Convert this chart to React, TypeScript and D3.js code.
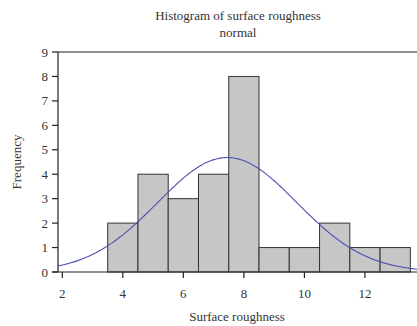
import React from "react";
import * as d3 from "d3";

const binStarts = [3.5, 4.5, 5.5, 6.5, 7.5, 8.5, 9.5, 10.5, 11.5, 12.5];
const binWidth = 1;
const counts = [2, 4, 3, 4, 8, 1, 1, 2, 1, 1];
const fitMean = 7.45;
const fitSd = 2.3;
const xTicks = [2, 4, 6, 8, 10, 12];
const yTicks = [0, 1, 2, 3, 4, 5, 6, 7, 8, 9];
const title = "Histogram of surface roughness";
const subtitle = "normal";
const xLabel = "Surface roughness";
const yLabel = "Frequency";

const W = 417;
const H = 326;
const left = 58;
const right = 417;
const top = 52;
const bottom = 272;

export default function App() {
  const x = d3.scaleLinear().domain([1.858, 13.72]).range([left, right]);
  const y = d3.scaleLinear().domain([0, 9]).range([bottom, top]);
  const n = d3.sum(counts);
  const xs = d3.range(1.858, 13.72, 0.05).concat([13.72]);
  const dens = (v: number) =>
    ((n * binWidth) / (fitSd * Math.sqrt(2 * Math.PI))) *
    Math.exp(-0.5 * ((v - fitMean) / fitSd) ** 2);
  const line = d3
    .line<number>()
    .x((d) => x(d))
    .y((d) => y(dens(d)))
    .curve(d3.curveMonotoneX);
  const font = "'Liberation Serif', 'DejaVu Serif', serif";
  const txt = "#333";
  const fs = 13;
  return (
    <svg
      width={W}
      height={H}
      style={{ position: "absolute", left: 0, top: 0, display: "block" }}
      fontFamily={font}
    >
      <rect width={W} height={H} fill="#fff" />
      <text x={238} y={19.5} textAnchor="middle" fontSize={fs} fill={txt}>
        {title}
      </text>
      <text x={238} y={36.5} textAnchor="middle" fontSize={fs} fill={txt}>
        {subtitle}
      </text>
      {binStarts.map((b, i) => (
        <rect
          key={i}
          x={x(b)}
          y={y(counts[i])}
          width={x(b + binWidth) - x(b)}
          height={y(0) - y(counts[i])}
          fill="#c5c6c5"
          stroke="#333"
          strokeWidth={1}
        />
      ))}
      <path d={line(xs) || ""} fill="none" stroke="#4b4fb3" strokeWidth={1.1} />
      <line x1={left} x2={right} y1={top} y2={top} stroke="#222" strokeWidth={1.2} />
      <line x1={left} x2={left} y1={top} y2={bottom} stroke="#222" strokeWidth={1.2} />
      <line x1={left - 6} x2={right} y1={bottom} y2={bottom} stroke="#222" strokeWidth={1.2} />
      {yTicks.map((t) => (
        <g key={t}>
          <line x1={left - 6} x2={left} y1={y(t)} y2={y(t)} stroke="#222" strokeWidth={1.2} />
          <text
            x={left - 10}
            y={y(t)}
            dy="0.35em"
            textAnchor="end"
            fontSize={fs}
            fill={txt}
          >
            {t}
          </text>
        </g>
      ))}
      {xTicks.map((t) => (
        <g key={t}>
          <line x1={x(t)} x2={x(t)} y1={bottom} y2={bottom + 6} stroke="#222" strokeWidth={1.2} />
          <text x={x(t)} y={297.5} textAnchor="middle" fontSize={fs} fill={txt}>
            {t}
          </text>
        </g>
      ))}
      <text x={237} y={320.5} textAnchor="middle" fontSize={fs} fill={txt}>
        {xLabel}
      </text>
      <text
        transform={`translate(20.5,162) rotate(-90)`}
        textAnchor="middle"
        fontSize={fs}
        fill={txt}
      >
        {yLabel}
      </text>
    </svg>
  );
}
